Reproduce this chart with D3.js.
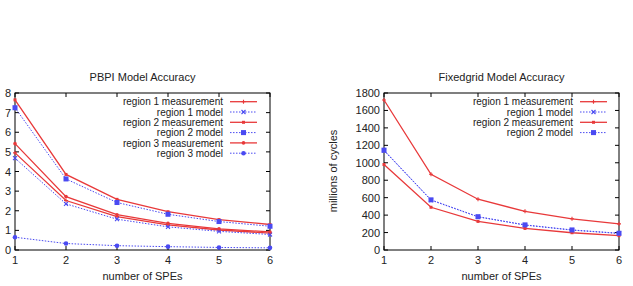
<!DOCTYPE html>
<html>
<head>
<meta charset="utf-8">
<script src="https://cdn.jsdelivr.net/npm/d3@7"></script>
<style>
  body { margin: 0; background: #fff; }
  svg { font-family: "Liberation Sans", Arial, sans-serif; }
  text { fill: #222; }
</style>
</head>
<body>
<svg id="chart" width="633" height="286"></svg>
<script>
// number of SPEs
var spes = [1, 2, 3, 4, 5, 6];

// PBPI (y in arbitrary units)
var pbpiR1Meas  = [4.95, 2.52, 1.70, 1.28, 1.02, 0.86];
var pbpiR1Model = [4.68, 2.35, 1.57, 1.18, 0.95, 0.79];
var pbpiR2Meas  = [7.65, 3.85, 2.58, 1.95, 1.55, 1.30];
var pbpiR2Model = [7.25, 3.62, 2.42, 1.82, 1.45, 1.21];
var pbpiR3Meas  = [5.42, 2.72, 1.80, 1.36, 1.08, 0.92];
var pbpiR3Model = [0.65, 0.33, 0.22, 0.17, 0.13, 0.11];

// Fixedgrid (millions of cycles)
var fgR1Meas  = [1720, 868, 582, 443, 358, 300];
var fgR1Model = [1140, 572, 380, 286, 228, 190];
var fgR2Meas  = [980, 490, 328, 247, 198, 165];
var fgR2Model = [1145, 575, 382, 288, 230, 192];

var pbpiTicks = [0, 1, 2, 3, 4, 5, 6, 7, 8];
var fgTicks = [0, 200, 400, 600, 800, 1000, 1200, 1400, 1600, 1800];

var RED = '#e8393a', BLUE = '#4a4af2';

var svg = d3.select('#chart');

// marker shapes, loosely after gnuplot point types
var marker = (g, type, x, y, color) => {
  if (type === 'plus') {
    g.append('path').attr('d', `M${x-2},${y}h4M${x},${y-2}v4`).attr('stroke', color).attr('stroke-width', 1.1);
  } else if (type === 'x') {
    g.append('path').attr('d', `M${x-2},${y-2}l4,4M${x-2},${y+2}l4,-4`).attr('stroke', color).attr('stroke-width', 1.1);
  } else if (type === 'smallsq') {
    g.append('rect').attr('x', x-1.5).attr('y', y-1.5).attr('width', 3).attr('height', 3).attr('fill', color);
  } else if (type === 'sq') {
    g.append('rect').attr('x', x-2.5).attr('y', y-2.5).attr('width', 5).attr('height', 5).attr('fill', color);
  } else if (type === 'dot') {
    g.append('circle').attr('cx', x).attr('cy', y).attr('r', 1.8).attr('fill', color);
  } else if (type === 'circ') {
    g.append('circle').attr('cx', x).attr('cy', y).attr('r', 2.3).attr('fill', color);
  }
};

drawPlot = (opts) => {
  var x = d3.scaleLinear().domain([1, 6]).range([opts.left, opts.right]);
  var y = d3.scaleLinear().domain([0, opts.ymax]).range([250, 93]);
  var g = svg.append('g');

  // frame
  g.append('rect')
    .attr('x', opts.left).attr('y', 93)
    .attr('width', opts.right - opts.left).attr('height', 157)
    .attr('fill', 'none').attr('stroke', '#000').attr('stroke-width', 1);

  // ticks on all four sides, inward like gnuplot
  spes.forEach(v => {
    g.append('line').attr('x1', x(v)).attr('x2', x(v)).attr('y1', 250).attr('y2', 246).attr('stroke', '#000');
    g.append('line').attr('x1', x(v)).attr('x2', x(v)).attr('y1', 93).attr('y2', 97).attr('stroke', '#000');
    g.append('text').attr('x', x(v)).attr('y', 264).attr('text-anchor', 'middle')
      .style('font-size', '11px').text(v);
  });
  opts.ticks.forEach(v => {
    g.append('line').attr('x1', opts.left).attr('x2', opts.left + 4).attr('y1', y(v)).attr('y2', y(v)).attr('stroke', '#000');
    g.append('line').attr('x1', opts.right).attr('x2', opts.right - 4).attr('y1', y(v)).attr('y2', y(v)).attr('stroke', '#000');
    g.append('text').attr('x', opts.left - 4).attr('y', y(v) + 4).attr('text-anchor', 'end')
      .style('font-size', '11px').text(v);
  });

  g.append('text').attr('x', (opts.left + opts.right) / 2).attr('y', 81)
    .attr('text-anchor', 'middle').style('font-size', '11px').text(opts.title);
  g.append('text').attr('x', (opts.left + opts.right) / 2).attr('y', 280)
    .attr('text-anchor', 'middle').style('font-size', '11px').text('number of SPEs');
  if (opts.ylabel) {
    g.append('text').attr('transform', `translate(${opts.left - 47},${171}) rotate(-90)`)
      .attr('text-anchor', 'middle').style('font-size', '11px').text(opts.ylabel);
  }

  var line = d3.line().x((d, i) => x(spes[i])).y(d => y(d));

  opts.series.forEach((s, k) => {
    var color = s.model ? BLUE : RED;
    var path = g.append('path').datum(s.values).attr('d', line)
      .attr('fill', 'none').attr('stroke', color)
      .attr('stroke-width', s.model ? 1 : 1.3);
    if (s.model) path.attr('stroke-dasharray', '1.5,1.5');
    s.values.forEach((v, i) => marker(g, s.mark, x(spes[i]), y(v), color));

    // legend entry
    var ly = 101.7 + k * 10.3;
    g.append('text').attr('x', opts.legendX).attr('y', ly + 3.6).attr('text-anchor', 'end')
      .style('font-size', '10px').text(s.name);
    var l = g.append('line').attr('x1', opts.legendX + 7).attr('x2', opts.legendX + 34)
      .attr('y1', ly).attr('y2', ly).attr('stroke', color).attr('stroke-width', s.model ? 1 : 1.3);
    if (s.model) l.attr('stroke-dasharray', '1.5,1.5');
    marker(g, s.mark, opts.legendX + 20.5, ly, color);
  });
};

drawPlot({
  left: 15, right: 270, ymax: 8, ticks: pbpiTicks, legendX: 223,
  title: 'PBPI Model Accuracy',
  series: [
    {name: 'region 1 measurement', values: pbpiR1Meas, mark: 'plus'},
    {name: 'region 1 model', values: pbpiR1Model, model: true, mark: 'x'},
    {name: 'region 2 measurement', values: pbpiR2Meas, mark: 'smallsq'},
    {name: 'region 2 model', values: pbpiR2Model, model: true, mark: 'sq'},
    {name: 'region 3 measurement', values: pbpiR3Meas, mark: 'dot'},
    {name: 'region 3 model', values: pbpiR3Model, model: true, mark: 'circ'}
  ]
});

drawPlot({
  left: 384, right: 619, ymax: 1800, ticks: fgTicks, legendX: 573,
  title: 'Fixedgrid Model Accuracy', ylabel: 'millions of cycles',
  series: [
    {name: 'region 1 measurement', values: fgR1Meas, mark: 'plus'},
    {name: 'region 1 model', values: fgR1Model, model: true, mark: 'x'},
    {name: 'region 2 measurement', values: fgR2Meas, mark: 'smallsq'},
    {name: 'region 2 model', values: fgR2Model, model: true, mark: 'sq'}
  ]
});
</script>
</body>
</html>
